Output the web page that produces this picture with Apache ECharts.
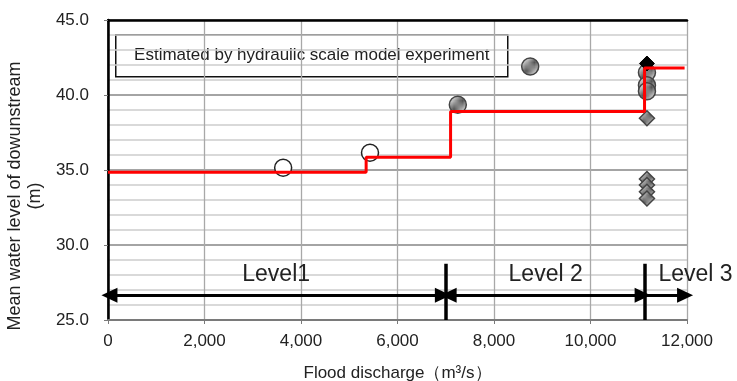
<!DOCTYPE html>
<html>
<head>
<meta charset="utf-8">
<script src="https://cdn.jsdelivr.net/npm/echarts@6/dist/echarts.min.js"></script>
<style>
  html, body { margin: 0; padding: 0; background: #fff; }
  #chart { width: 737px; height: 381px; }
</style>
</head>
<body>
<div id="chart"></div>
<script>
var openCircles = [[3630, 35.15], [5430, 36.15]];
var hatchedCircles = [[7250, 39.35], [8750, 41.9], [11170, 41.5], [11170, 40.65], [11170, 40.25]];
var hatchedDiamonds = [[11170, 38.45], [11170, 34.4], [11170, 34.0], [11170, 33.55], [11170, 33.1]];
var blackDiamonds = [[11170, 42.1]];
var estimateSteps = [[0, 34.85], [5350, 35.85], [7100, 38.9], [11120, 41.8], [11950, 41.8]];
var levelNames = ['Level1', 'Level 2', 'Level 3'];
var levelStarts = [30, 7060, 11160];
var levelEnds = [6940, 11080, 11960];
var levelSeparators = [7000, 11120];
var arrowY = 26.65;
var separatorTop = 28.75;

(function() {
  var ink = '#222';
  var font = '"Liberation Sans", Arial, sans-serif';

  // diagonal hatching for the grey markers
  function hatch() {
    var c = document.createElement('canvas');
    c.width = 5; c.height = 5;
    var g = c.getContext('2d');
    g.fillStyle = '#ffffff';
    g.fillRect(0, 0, 5, 5);
    g.strokeStyle = '#555';
    g.lineWidth = 1.3;
    g.beginPath();
    g.moveTo(0, 5); g.lineTo(5, 0);
    g.moveTo(-1, 1); g.lineTo(1, -1);
    g.moveTo(4, 6); g.lineTo(6, 4);
    g.stroke();
    return c;
  }
  var hatchFill = { image: hatch(), repeat: 'repeat' };

  var lines = [];
  levelNames.forEach(function(name, i) {
    lines.push([
      { coord: [levelStarts[i], arrowY], symbol: i === 2 ? 'none' : 'triangle',
        name: name,
        label: { position: i === 2 ? 'insideStartTop' : 'middle', distance: i === 2 ? [12, 9] : 9 } },
      { coord: [levelEnds[i], arrowY], symbol: 'triangle' }
    ]);
  });
  levelSeparators.forEach(function(x) {
    lines.push([
      { coord: [x, 25], symbol: 'none', label: { show: false }, lineStyle: { width: 3.5 } },
      { coord: [x, separatorTop], symbol: 'none' }
    ]);
  });

  var chart = echarts.init(document.getElementById('chart'));
  chart.setOption({
    animation: false,
    textStyle: { fontFamily: font },
    grid: { left: 108, right: 50, top: 20, bottom: 61, outerBoundsMode: 'none' },
    xAxis: [{
      type: 'value', min: 0, max: 12000, interval: 2000,
      name: 'Flood discharge（m³/s）', nameLocation: 'middle', nameGap: 45,
      nameTextStyle: { color: ink, fontSize: 17, fontFamily: font },
      axisLine: { lineStyle: { color: '#7a7a7a', width: 2 } },
      axisTick: { show: true, length: 4, lineStyle: { color: '#7a7a7a' } },
      axisLabel: { color: ink, fontSize: 17, margin: 13,
        formatter: function(v) { return v.toLocaleString('en-US'); } },
      splitLine: { show: true, lineStyle: { color: '#a8a8a8', width: 1.3 } }
    }, {
      type: 'value', position: 'top', min: 0, max: 12000,
      axisLine: { show: true, lineStyle: { color: '#000', width: 2.5 } },
      axisTick: { show: false }, axisLabel: { show: false }, splitLine: { show: false }
    }],
    yAxis: [{
      type: 'value', min: 25, max: 45, interval: 5,
      name: 'Mean water level of dowunstream\n(m)', nameLocation: 'middle', nameGap: 56,
      nameTextStyle: { color: ink, fontSize: 18, fontFamily: font, lineHeight: 20, padding: [0, 52, 0, 0] },
      axisLine: { show: true, lineStyle: { color: '#7a7a7a', width: 2 } },
      axisTick: { show: true, length: 4, lineStyle: { color: '#7a7a7a' } },
      axisLabel: { color: ink, fontSize: 17, margin: 19,
        formatter: function(v) { return v.toFixed(1); } },
      splitLine: { show: true, lineStyle: { color: '#868686', width: 1.5 } },
      minorTick: { show: false, splitNumber: 5 },
      minorSplitLine: { show: true, lineStyle: { color: '#cdcdcd', width: 1.5 } }
    }, {
      type: 'value', position: 'right', min: 25, max: 45,
      axisLine: { show: true, lineStyle: { color: '#000', width: 2.5 } },
      axisTick: { show: false }, axisLabel: { show: false }, splitLine: { show: false }
    }],
    series: [
      {
        type: 'scatter', data: hatchedCircles, symbol: 'circle', symbolSize: 17, z: 3,
        itemStyle: { color: hatchFill, borderColor: '#444', borderWidth: 1.5, opacity: 1 }
      },
      {
        type: 'scatter', data: openCircles, symbol: 'circle', symbolSize: 17, z: 3,
        itemStyle: { color: '#fff', borderColor: '#222', borderWidth: 1.5, opacity: 1 }
      },
      {
        type: 'scatter', data: hatchedDiamonds, symbol: 'diamond', symbolSize: 15, z: 3,
        itemStyle: { color: hatchFill, borderColor: '#444', borderWidth: 1.5, opacity: 1 }
      },
      {
        type: 'scatter', data: blackDiamonds, symbol: 'diamond', symbolSize: 15, z: 3,
        itemStyle: { color: '#000', borderColor: '#000', borderWidth: 1, opacity: 1 }
      },
      {
        type: 'line', data: estimateSteps, step: 'end', showSymbol: false, z: 5,
        lineStyle: { color: '#ff0000', width: 3 }
      },
      {
        type: 'line', data: [], silent: true, z: 4,
        markLine: {
          silent: true, animation: false,
          symbol: ['triangle', 'triangle'], symbolSize: [15, 16],
          lineStyle: { color: '#000', width: 3, type: 'solid' },
          label: { show: true, formatter: '{b}', color: ink, fontSize: 23, fontFamily: font },
          emphasis: { disabled: true },
          data: lines
        }
      }
    ],
    graphic: [{
      type: 'group', left: 115, top: 34, z: 10,
      children: [
        { type: 'rect', shape: { x: 0, y: 0, width: 392, height: 42 },
          style: { fill: '#fff', stroke: '#111', lineWidth: 1.5 } },
        { type: 'text', x: 196, y: 21,
          style: { text: 'Estimated by hydraulic scale model experiment', fill: ink,
            font: '17px ' + font, textAlign: 'center', textVerticalAlign: 'middle' } }
      ]
    }]
  });

  window.addEventListener('resize', function() { chart.resize(); });
})();
</script>
</body>
</html>
